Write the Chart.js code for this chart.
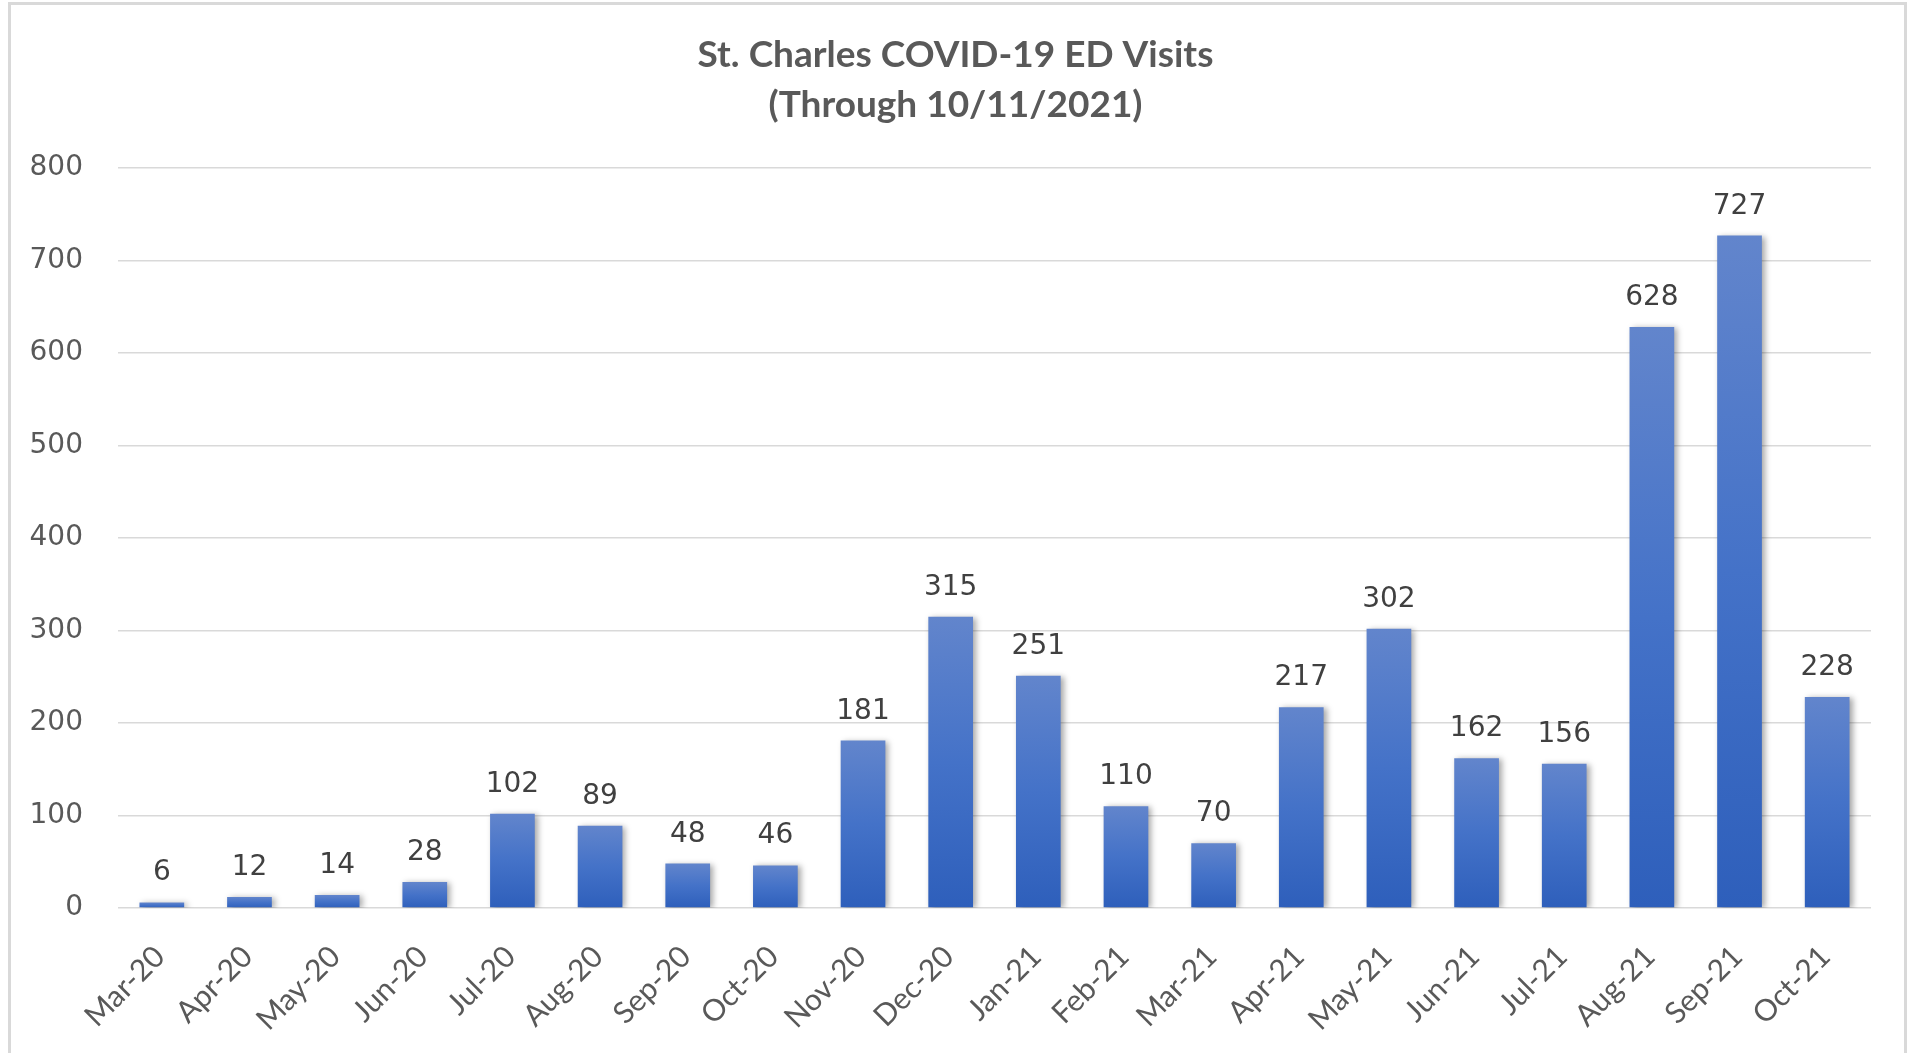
<!DOCTYPE html>
<html>
<head>
<meta charset="utf-8">
<script src="https://cdn.jsdelivr.net/npm/chart.js@4.4.1/dist/chart.umd.min.js"></script>
<style>
  html, body { margin: 0; padding: 0; background: #fff; overflow: hidden; }
  #wrap { position: relative; width: 1911px; height: 1053px; }
  #frame { position: absolute; left: 8px; top: 2px; width: 1893px; height: 1100px;
           border: 3px solid #d9d9d9; border-bottom: none; pointer-events: none; }
</style>
</head>
<body>
<div id="wrap">
  <canvas id="edChart" width="1911" height="1053"></canvas>
  <div id="frame"></div>
</div>
<script>
    // monthly ED visits
    var months = ['Mar-20', 'Apr-20', 'May-20', 'Jun-20', 'Jul-20', 'Aug-20', 'Sep-20', 'Oct-20',
                  'Nov-20', 'Dec-20', 'Jan-21', 'Feb-21', 'Mar-21', 'Apr-21', 'May-21', 'Jun-21',
                  'Jul-21', 'Aug-21', 'Sep-21', 'Oct-21'];
    var visits = [6, 12, 14, 28, 102, 89, 48, 46, 181, 315, 251, 110, 70, 217, 302, 162, 156, 628, 727, 228];
    var yMin = 0, yMax = 800, yStep = 100;
    var titleLines = ['St. Charles COVID-19 ED Visits', '(Through 10/11/2021)'];

    // soft shadow to the right of each bar
    var barShadow = {
        id: 'barShadow',
        beforeDatasetsDraw: function (chart) {
            var ctx = chart.ctx;
            ctx.save();
            ctx.shadowColor = 'rgba(0, 0, 0, 0.35)';
            ctx.shadowBlur = 6;
            ctx.shadowOffsetX = 3;
            ctx.shadowOffsetY = 1;
        },
        afterDatasetsDraw: function (chart) {
            chart.ctx.restore();
        }
    };

    // value above each bar
    var valueLabels = {
        id: 'valueLabels',
        afterDatasetsDraw: function (chart) {
            var ctx = chart.ctx;
            var meta = chart.getDatasetMeta(0);
            ctx.save();
            ctx.font = '28px "DejaVu Sans"';
            ctx.fillStyle = '#404040';
            ctx.textAlign = 'center';
            ctx.textBaseline = 'alphabetic';
            meta.data.forEach(function (bar, i) {
                ctx.fillText(String(visits[i]), bar.x, bar.y - 22);
            });
            ctx.restore();
        }
    };

    var ctx = document.getElementById('edChart').getContext('2d');

    var edChart = new Chart(ctx, {
        type: 'bar',
        data: {
            labels: months,
            datasets: [{
                label: 'ED Visits',
                data: visits,
                backgroundColor: function (c) {
                    var chart = c.chart;
                    if (!chart.chartArea || c.type !== 'data') return '#4472c4';
                    var y = chart.scales.y;
                    var top = y.getPixelForValue(c.raw);
                    var base = y.getPixelForValue(0);
                    var g = chart.ctx.createLinearGradient(0, top, 0, base);
                    g.addColorStop(0, '#6285cc');
                    g.addColorStop(0.5, '#4472c8');
                    g.addColorStop(1, '#2e5fbb');
                    return g;
                },
                borderWidth: 0,
                barPercentage: 0.51,
                categoryPercentage: 1.0
            }]
        },
        options: {
            responsive: false,
            animation: false,
            layout: { padding: 0 },
            plugins: {
                legend: { display: false },
                tooltip: { enabled: false },
                title: {
                    display: true,
                    text: titleLines,
                    color: '#595959',
                    font: { family: 'Lato', size: 37, weight: 'bold', lineHeight: 50 / 37 },
                    padding: { top: 30, bottom: 38 }
                }
            },
            scales: {
                x: {
                    grid: { display: false },
                    border: { display: false },
                    ticks: {
                        color: '#595959',
                        font: { family: 'Lato', size: 30 },
                        maxRotation: 45,
                        minRotation: 45,
                        autoSkip: false,
                        padding: 23,
                        labelOffset: -2
                    },
                    afterFit: function (scale) { scale.height = 145; }
                },
                y: {
                    min: yMin,
                    max: yMax,
                    grid: { color: '#d9d9d9', lineWidth: 1.5, drawTicks: false },
                    border: { display: false },
                    ticks: {
                        stepSize: yStep,
                        color: '#595959',
                        font: { family: 'DejaVu Sans', size: 28 },
                        padding: 35
                    },
                    afterFit: function (scale) { scale.width = 118; }
                },
                // empty right margin so the plot ends where the original does
                yRight: {
                    position: 'right',
                    grid: { display: false },
                    border: { display: false },
                    ticks: { display: false },
                    afterFit: function (scale) { scale.width = 40; }
                }
            }
        },
        plugins: [barShadow, valueLabels]
    });
</script>
</body>
</html>
